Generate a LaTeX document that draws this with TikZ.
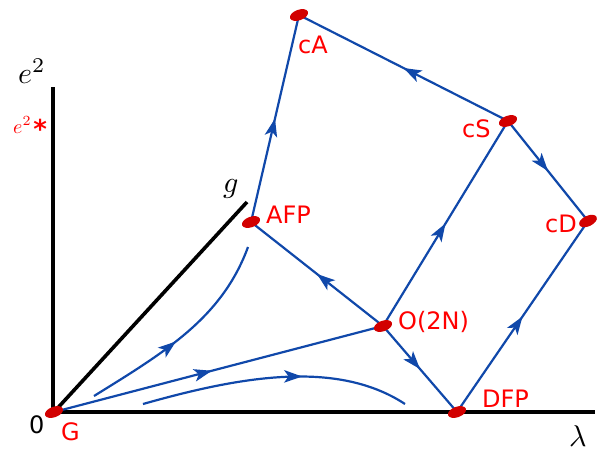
\documentclass[tikz,border=0pt]{standalone}
\usepackage{fontspec}
\usetikzlibrary{shapes.geometric,decorations.markings,arrows.meta}
\newfontfamily\labfont{DejaVu Sans}
\definecolor{flowblue}{RGB}{16,72,170}
\definecolor{fpred}{RGB}{210,0,0}
\definecolor{labred}{RGB}{255,0,0}
\tikzset{
  axis/.style={line width=3.6pt,black},
  flow/.style={line width=2.2pt,flowblue},
  flowarrow/.style={postaction={decorate},decoration={markings,mark=at position #1 with {\arrow{Stealth[length=18pt,width=12.5pt,inset=4.5pt]}}}},
  fp/.style={ellipse,fill=fpred,draw=none,minimum width=19pt,minimum height=10.5pt,inner sep=0pt},
  lab/.style={anchor=base west,inner sep=0pt,text=labred,font=\labfont\fontsize{24}{24}\selectfont},
  mlab/.style={anchor=base west,inner sep=0pt}
}
\begin{document}
\begin{tikzpicture}[x=1pt,y=-1pt]
\useasboundingbox (0,0) rectangle (602,451);
% fixed points
\coordinate (G) at (54,412);
\coordinate (DFP) at (457,412);
\coordinate (O2N) at (383,326);
\coordinate (AFP) at (251,222);
\coordinate (cA) at (299,15);
\coordinate (cS) at (508,121);
\coordinate (cD) at (588,221);
\coordinate (ytop) at (53,87);
\coordinate (xend) at (595,412);
\coordinate (gend) at (247,202);
% axes
\draw[axis] (53,412) -- (ytop);
\draw[axis] (G) -- (xend);
\draw[axis] (G) -- (gend);
% flows
\draw[flow,flowarrow=0.5] (AFP) -- (cA);
\draw[flow,flowarrow=0.5] (cS) -- (cA);
\draw[flow,flowarrow=0.5] (cS) -- (cD);
\draw[flow,flowarrow=0.5] (O2N) -- (cS);
\draw[flow,flowarrow=0.5] (DFP) -- (cD);
\draw[flow,flowarrow=0.5] (O2N) -- (AFP);
\draw[flow,flowarrow=0.5] (O2N) -- (DFP);
\draw[flow,flowarrow=0.48] (G) -- (O2N);
\coordinate (c1s) at (94,396);
\coordinate (c1e) at (248,247);
\draw[flow,flowarrow=0.45] (c1s) .. controls (165,352) and (222,318) .. (c1e);
\coordinate (c2s) at (143,404);
\coordinate (c2e) at (405,404);
\draw[flow,flowarrow=0.6] (c2s) .. controls (235,378) and (335,358) .. (c2e);
% fixed point markers
\node[fp,rotate=20] at (G) {};
\node[fp,rotate=20] at (DFP) {};
\node[fp,rotate=20] at (O2N) {};
\node[fp,rotate=20] at (AFP) {};
\node[fp,rotate=20] at (cA) {};
\node[fp,rotate=20] at (cS) {};
\node[fp,rotate=25] at (cD) {};
% labels
\node[lab] (lAFP) at (266,223) {AFP};
\node[lab] (lcA) at (298,53) {cA};
\node[lab] (lcS) at (462,137) {cS};
\node[lab] (lcD) at (545,232) {cD};
\node[lab] (lO2N) at (398,329) {O(2N)};
\node[lab] (lDFP) at (482,407) {DFP};
\node[lab] (lG) at (61,440) {G};
\node[lab,text=black] (l0) at (29,433) {0};
\node[mlab] (le2) at (18,83) {\scalebox{3}{$e^2$}};
\node[anchor=base west,inner sep=0pt,text=labred] (lestar) at (13,133) {\scalebox{2}{$e^2$\hspace{1pt}\raisebox{-2.5pt}{\labfont\bfseries\fontsize{13}{13}\selectfont *}}};
\node[mlab] (lg) at (223,192) {\scalebox{3}{$g$}};
\node[mlab] (llam) at (569,446) {\scalebox{3}{$\lambda$}};
\end{tikzpicture}
\end{document}
